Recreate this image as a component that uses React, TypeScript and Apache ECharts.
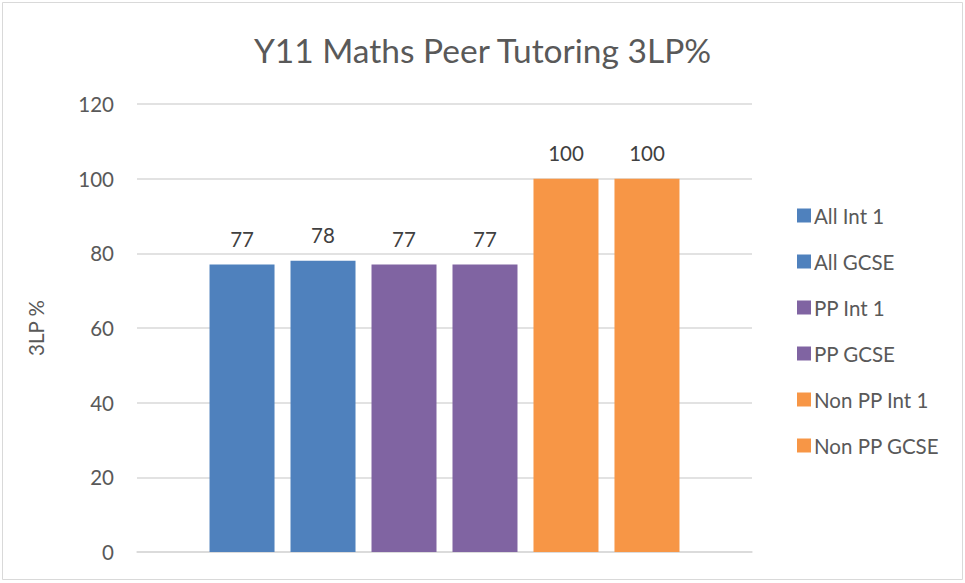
import React, { useEffect, useRef } from "react";
import * as echarts from "echarts";

const categories = [""];
const seriesNames = ["All Int 1", "All GCSE", "PP Int 1", "PP GCSE", "Non PP Int 1", "Non PP GCSE"];
const seriesValues = [77, 78, 77, 77, 100, 100];
const seriesColors = ["#4F81BD", "#4F81BD", "#8064A2", "#8064A2", "#F79646", "#F79646"];
const yTicks = [0, 20, 40, 60, 80, 100, 120];

const FONT = "Lato, 'Liberation Sans', sans-serif";

export default function App() {
  const ref = useRef<HTMLDivElement>(null);
  useEffect(() => {
    document.body.style.margin = "0";
    const chart = echarts.init(ref.current!, undefined, { renderer: "svg" });
    chart.setOption({
      animation: false,
      backgroundColor: "#ffffff",
      textStyle: { fontFamily: FONT },
      title: {
        text: "Y11 Maths Peer Tutoring 3LP%",
        left: "center",
        top: 28,
        textStyle: { fontFamily: FONT, fontSize: 33.5, fontWeight: "normal", color: "#595959" },
      },
      graphic: [
        {
          type: "rect",
          shape: { x: 2.5, y: 2.5, width: 960, height: 577 },
          style: { fill: "none", stroke: "#D9D9D9", lineWidth: 1 },
          silent: true,
        },
      ],
      legend: {
        orient: "vertical",
        left: 792,
        top: 200,
        itemWidth: 14,
        itemHeight: 14,
        itemGap: 25,
        icon: "rect",
        data: seriesNames,
        textStyle: { fontFamily: FONT, fontSize: 20.5, color: "#595959", lineHeight: 19, padding: [0, 0, 0, -2] },
      },
      grid: { left: 137, right: 213, top: 104, bottom: 31, containLabel: false },
      xAxis: {
        type: "category",
        data: categories,
        axisTick: { show: false },
        axisLabel: { show: false },
        axisLine: { lineStyle: { color: "#D9D9D9", width: 1.5 } },
      },
      yAxis: {
        type: "value",
        min: yTicks[0],
        max: yTicks[yTicks.length - 1],
        interval: 20,
        name: "3LP %",
        nameLocation: "middle",
        nameGap: 91,
        nameRotate: 90,
        nameTextStyle: { fontFamily: FONT, fontSize: 20.5, color: "#595959" },
        axisLine: { show: false },
        axisTick: { show: false },
        axisLabel: { fontFamily: FONT, fontSize: 20.5, color: "#595959", margin: 23 },
        splitLine: { lineStyle: { color: "#D9D9D9", width: 1.5 } },
      },
      series: seriesNames.map((name, i) => ({
        name,
        type: "bar",
        data: [seriesValues[i]],
        barWidth: 65,
        barGap: "24.6%",
        itemStyle: { color: seriesColors[i] },
        label: {
          show: true,
          position: "top",
          distance: 15,
          fontFamily: FONT,
          fontSize: 20.5,
          color: "#404040",
        },
      })),
    });
    return () => chart.dispose();
  }, []);
  return <div ref={ref} style={{ width: 965, height: 583 }} />;
}
